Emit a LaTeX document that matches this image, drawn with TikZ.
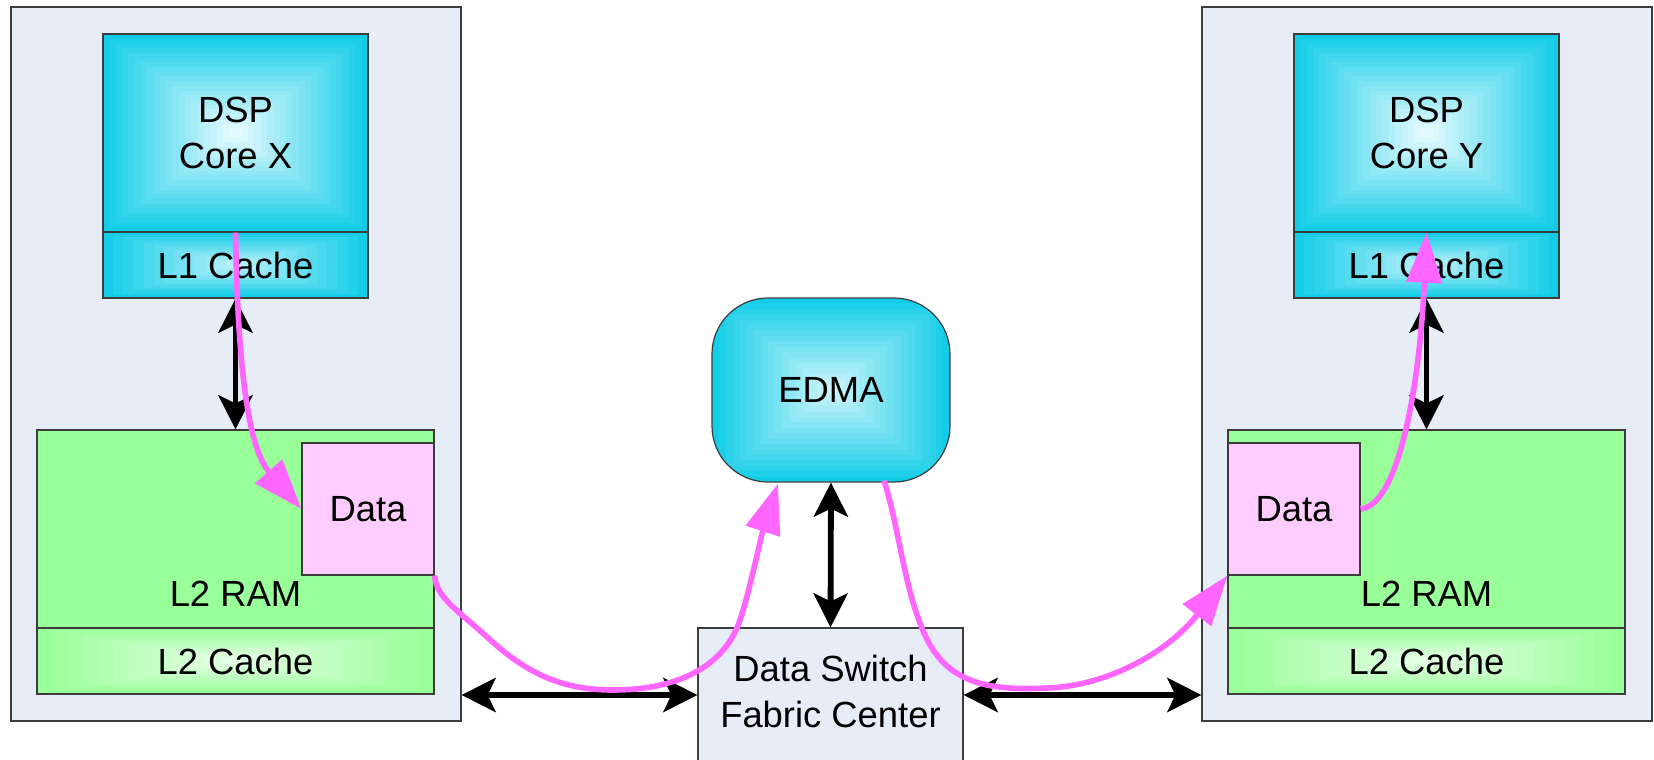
\documentclass[tikz,border=0pt]{standalone}
\usepackage{fontspec}
\setmainfont{Liberation Sans}
\usetikzlibrary{arrows.meta,fit,calc}

\definecolor{panel}{RGB}{230,237,247}
\definecolor{edgegray}{RGB}{60,60,60}
\definecolor{cyanedge}{RGB}{19,205,232}
\definecolor{cyanmid}{RGB}{240,252,255}
\definecolor{ramgreen}{RGB}{153,255,153}
\definecolor{datapink}{RGB}{255,204,255}
\definecolor{flowpink}{RGB}{255,102,255}

% Rectangular "from centre" gradient built from nested bands
% #1,#2 = top-left corner, #3,#4 = bottom-right corner,
% #5 = outer colour, #6 = centre colour, #7 = number of bands
\newcommand\boxshade[7]{%
  \foreach \k in {0,...,#7}{%
    \pgfmathsetmacro\shfr{\k/(#7+1)}%
    \pgfmathsetmacro\shpc{100*\shfr}%
    \fill[#6!\shpc!#5] ({#1+\shfr*(#3-#1)/2},{#2+\shfr*(#4-#2)/2})
      rectangle ({#3-\shfr*(#3-#1)/2},{#4-\shfr*(#4-#2)/2});
  }%
}

\begin{document}
\begin{tikzpicture}[x=0.5pt,y=-0.5pt,
  font=\fontsize{18.2}{23}\selectfont,
  box/.style={draw=edgegray, line width=0.6pt, inner sep=0pt},
  panelbox/.style={box, fill=panel},
  lbl/.style={inner sep=0pt, align=center},
  link/.style={line width=2.9pt,
    {Stealth[length=17pt,width=17pt,inset=4pt]}-{Stealth[length=17pt,width=17pt,inset=4pt]}},
  flowline/.style={draw=flowpink, line width=2.8pt,
    -{Triangle[length=25pt,width=17.5pt]}}
]
\useasboundingbox (0,0) rectangle (1654,760);

% processor panels
\node[panelbox, fit={(11,7) (461,721)}] (sysX) {};
\node[panelbox, fit={(1202,7) (1652,721)}] (sysY) {};

% shaded fills
\boxshade{103}{34}{368}{232}{cyanedge}{cyanmid}{20}
\boxshade{103}{232}{368}{298}{cyanedge}{cyanedge!25!white}{12}
\boxshade{1294}{34}{1559}{232}{cyanedge}{cyanmid}{20}
\boxshade{1294}{232}{1559}{298}{cyanedge}{cyanedge!25!white}{12}
\boxshade{37}{628}{434}{694}{ramgreen}{ramgreen!20!white}{12}
\boxshade{1228}{628}{1625}{694}{ramgreen}{ramgreen!20!white}{12}
\begin{scope}
  \clip[rounded corners=28pt] (712,298) rectangle (950,482);
  \boxshade{712}{298}{950}{482}{cyanedge}{cyanedge!18!white}{16}
\end{scope}

% core X side
\node[box, fit={(103,34) (368,232)}] (coreX) {};
\node[box, fit={(103,232) (368,298)}] (l1X) {};
\node[box, fill=ramgreen, fit={(37,430) (434,628)}] (l2X) {};
\node[box, fit={(37,628) (434,694)}] (l2cX) {};
\node[box, fill=datapink, fit={(302,443) (434,575)}] (dataX) {};
\node[lbl] (coreXtxt) at (coreX.center) {DSP\\Core X};
\node[lbl] (l1Xtxt) at (l1X.center) {L1 Cache};
\node[lbl] (l2cXtxt) at (l2cX.center) {L2 Cache};
\node[lbl] (dataXtxt) at (dataX.center) {Data};
\node[lbl] (ramX) at (235.5,594) {L2 RAM};

% core Y side
\node[box, fit={(1294,34) (1559,232)}] (coreY) {};
\node[box, fit={(1294,232) (1559,298)}] (l1Y) {};
\node[box, fill=ramgreen, fit={(1228,430) (1625,628)}] (l2Y) {};
\node[box, fit={(1228,628) (1625,694)}] (l2cY) {};
\node[box, fill=datapink, fit={(1228,443) (1360,575)}] (dataY) {};
\node[lbl] (coreYtxt) at (coreY.center) {DSP\\Core Y};
\node[lbl] (l1Ytxt) at (l1Y.center) {L1 Cache};
\node[lbl] (l2cYtxt) at (l2cY.center) {L2 Cache};
\node[lbl] (dataYtxt) at (dataY.center) {Data};
\node[lbl] (ramY) at (1426.5,594) {L2 RAM};

% EDMA and switch fabric
\node[box, rounded corners=28pt, fit={(712,298) (950,482)}] (edma) {};
\node[lbl] (edmatxt) at (edma.center) {EDMA};
\node[box, fill=panel, fit={(698,628) (963,762)}] (dsf) {};
\node[lbl] (dsftxt) at ($(dsf.north)+(0,64)$) {Data Switch\\Fabric Center};

% bus connections
\draw[link] (l1X.south) -- (l2X.north);
\draw[link] (l1Y.south) -- (l2Y.north);
\draw[link] (edma.south) -- (dsf.north);
\draw[link] (sysX.east |- dsf.west) -- (dsf.west);
\draw[link] (dsf.east) -- (sysY.west |- dsf.east);

% data movement path
\draw[flowline] (coreX.south) .. controls (238,380) and (250,450) .. (dataX.west);
\draw[flowline] (dataX.south east) .. controls (436,598) and (460,612) .. (487,637)
  .. controls (525,672) and (560,690) .. (613,690)
  .. controls (680,690) and (725,665) .. (740,620)
  .. controls (750,590) and (760,540) .. ($(edma.south)+(-53,1)$);
\draw[flowline] ($(edma.south)+(53,-2)$) .. controls (900,530) and (905,600) .. (930,645)
  .. controls (955,688) and (1000,690) .. (1047,688)
  .. controls (1110,686) and (1170,650) .. (dataY.south west);
\draw[flowline] (dataY.east) .. controls (1400,505) and (1420,380) .. (coreY.south);
\end{tikzpicture}
\end{document}
